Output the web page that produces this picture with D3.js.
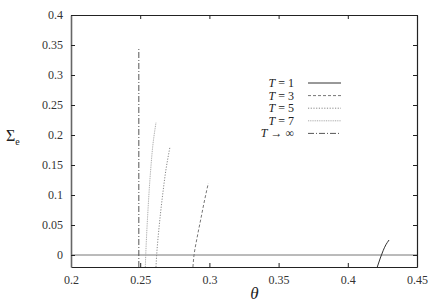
<!DOCTYPE html>
<html>
<head>
<meta charset="utf-8">
<script src="https://cdn.jsdelivr.net/npm/d3@7"></script>
<style>
  body { margin: 0; background: #fff; }
  text { font-family: "Liberation Serif", "DejaVu Serif", serif; }
</style>
</head>
<body>
<div id="chart"></div>
<script>
// data
const xTicks = [0.2, 0.25, 0.3, 0.35, 0.4, 0.45];
const yTicks = [0, 0.05, 0.1, 0.15, 0.2, 0.25, 0.3, 0.35, 0.4];

const t1 = [[0.4213, -0.02], [0.4235, -0.005], [0.4255, 0.007], [0.4275, 0.017], [0.4298, 0.025]];
const t3 = [[0.2881, -0.02], [0.2889, 0], [0.2912, 0.03], [0.2938, 0.06], [0.2964, 0.09], [0.2992, 0.1195]];
const t5 = [[0.2614, -0.02], [0.2619, 0], [0.2638, 0.05], [0.2662, 0.1], [0.2688, 0.145], [0.2715, 0.18]];
const t7 = [[0.2537, -0.02], [0.2540, 0], [0.2555, 0.07], [0.2575, 0.14], [0.2595, 0.19], [0.2614, 0.2205]];
const tInf = [[0.249, -0.02], [0.249, 0.345]];

const series = [
  { label: "T = 1", data: t1, color: "#333", dash: null },
  { label: "T = 3", data: t3, color: "#777", dash: "3,2" },
  { label: "T = 5", data: t5, color: "#888", dash: "1.2,1.5" },
  { label: "T = 7", data: t7, color: "#aaa", dash: "1,0.8" },
  { label: "T → ∞", data: tInf, color: "#555", dash: "6,2,1,2" }
];

const width = 436, height = 306;
const margin = { top: 15, right: 19, bottom: 39, left: 71 };
const innerWidth = width - margin.left - margin.right;
const innerHeight = height - margin.top - margin.bottom;

const svg = d3.select("#chart").append("svg")
  .attr("width", width)
  .attr("height", height);

const g = svg.append("g")
  .attr("transform", `translate(${margin.left},${margin.top})`);

const x = d3.scaleLinear().domain([0.2, 0.45]).range([0, innerWidth]);
const y = d3.scaleLinear().domain([-0.02, 0.4]).range([innerHeight, 0]);

// zero line
g.append("line")
  .attr("x1", 0).attr("x2", innerWidth)
  .attr("y1", y(0)).attr("y2", y(0))
  .attr("stroke", "#777").attr("stroke-width", 1);

const fmt = d => d === 0 ? "0" : String(d);

// axes: ticks inward, mirrored
const axisB = g.append("g").attr("transform", `translate(0,${innerHeight})`)
  .call(d3.axisBottom(x).tickValues(xTicks).tickFormat(fmt).tickSizeInner(-4).tickSizeOuter(0).tickPadding(8));
const axisT = g.append("g")
  .call(d3.axisTop(x).tickValues(xTicks).tickFormat("").tickSizeInner(-4).tickSizeOuter(0));
const axisL = g.append("g")
  .call(d3.axisLeft(y).tickValues(yTicks).tickFormat(fmt).tickSizeInner(-4).tickSizeOuter(0).tickPadding(8));
const axisR = g.append("g").attr("transform", `translate(${innerWidth},0)`)
  .call(d3.axisRight(y).tickValues(yTicks).tickFormat("").tickSizeInner(-4).tickSizeOuter(0));

// mirrored axes carry no labels
axisT.selectAll(".tick text").remove();
axisR.selectAll(".tick text").remove();

[axisB, axisT, axisL, axisR].forEach(a => {
  a.attr("font-family", null);
  a.select(".domain").attr("stroke", "#222").attr("stroke-width", 1.2);
  a.selectAll(".tick line").attr("stroke", "#222");
  a.selectAll(".tick text").attr("fill", "#333").style("font-size", "12px");
});
axisL.select(".domain").attr("stroke", "#666").attr("stroke-width", 1.6);

// curves
const line = d3.line().x(d => x(d[0])).y(d => y(d[1])).curve(d3.curveMonotoneY);
series.forEach(s => {
  g.append("path")
    .datum(s.data)
    .attr("d", line)
    .attr("fill", "none")
    .attr("stroke", s.color)
    .attr("stroke-width", 1)
    .attr("stroke-dasharray", s.dash);
});

// legend
const legend = svg.append("g").attr("transform", "translate(294,83)");
series.forEach((s, i) => {
  const row = legend.append("g").attr("transform", `translate(0,${i * 12.6})`);
  const parts = s.label.split(" ");
  const t = row.append("text")
    .attr("x", 0).attr("y", 4)
    .attr("text-anchor", "end")
    .style("font-size", "12px")
    .attr("fill", "#222");
  t.append("tspan").style("font-style", "italic").text(parts[0]);
  t.append("tspan").text(" " + parts.slice(1).join(" "));
  row.append("line")
    .attr("x1", 14).attr("x2", 47)
    .attr("y1", 0).attr("y2", 0)
    .attr("stroke", s.color)
    .attr("stroke-dasharray", s.dash);
});

// axis labels
svg.append("text")
  .attr("x", margin.left + x(0.3325)).attr("y", 299)
  .attr("text-anchor", "middle")
  .style("font-size", "17px").style("font-style", "italic")
  .attr("fill", "#222")
  .text("θ");

const yl = svg.append("text")
  .attr("x", 6).attr("y", 141)
  .style("font-size", "16px")
  .attr("fill", "#222");
yl.append("tspan").text("Σ");
yl.append("tspan").attr("dy", 4).style("font-size", "10px").text("e");
</script>
</body>
</html>
